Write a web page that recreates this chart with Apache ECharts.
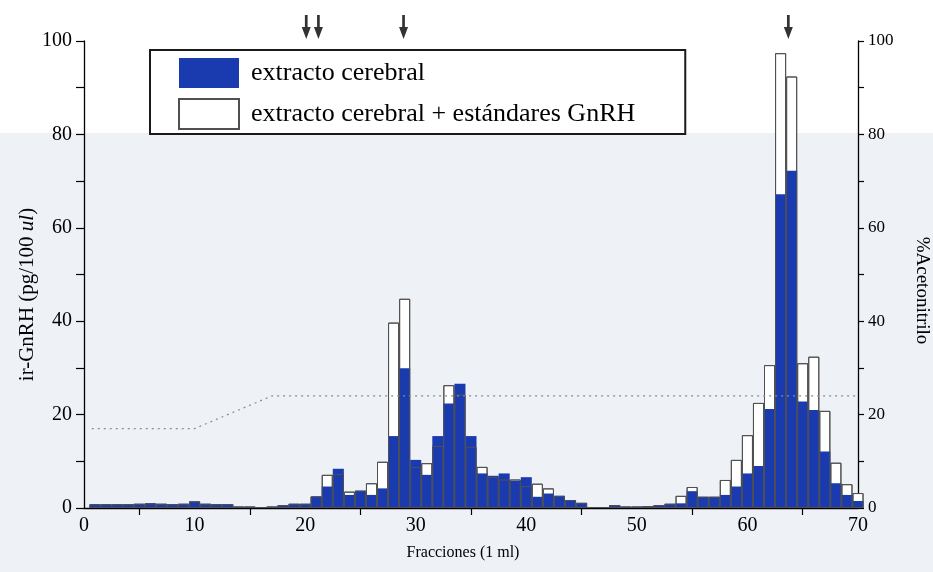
<!DOCTYPE html>
<html>
<head>
<meta charset="utf-8">
<script src="https://cdn.jsdelivr.net/npm/echarts@6/dist/echarts.min.js"></script>
<style>
  html, body { margin: 0; padding: 0; background: #ffffff; }
  #chart { width: 933px; height: 572px; }
</style>
</head>
<body>
<div id="chart"></div>
<script>
// Fraction numbers collected from the column (1 ml each)
const fractions = [
   1,  2,  3,  4,  5,  6,  7,  8,  9, 10,
  11, 12, 13, 14, 15, 16, 17, 18, 19, 20,
  21, 22, 23, 24, 25, 26, 27, 28, 29, 30,
  31, 32, 33, 34, 35, 36, 37, 38, 39, 40,
  41, 42, 43, 44, 45, 46, 47, 48, 49, 50,
  51, 52, 53, 54, 55, 56, 57, 58, 59, 60,
  61, 62, 63, 64, 65, 66, 67, 68, 69, 70
];

// ir-GnRH (pg/100 ul), brain extract alone
const brainExtract = [
  0.8, 0.8, 0.8, 0.8, 0.9, 1.0, 0.9, 0.8, 0.9, 1.4,
  0.9, 0.8, 0.8, 0.3, 0.3, 0.2, 0.3, 0.6, 0.9, 0.9,
  2.4, 4.6, 8.4, 2.8, 3.7, 2.8, 4.2, 15.4, 29.9, 10.3,
  7.1, 15.4, 22.4, 26.6, 15.4, 7.4, 6.9, 7.4, 5.8, 6.6,
  2.4, 3.1, 2.6, 1.7, 1.1, 0.2, 0.2, 0.6, 0.3, 0.3,
  0.4, 0.6, 0.9, 1.0, 3.6, 2.4, 2.4, 2.8, 4.6, 7.4,
  9.0, 21.2, 67.2, 72.2, 22.8, 21.0, 12.1, 5.3, 2.8, 1.5
];

// ir-GnRH (pg/100 ul), brain extract spiked with GnRH standards
const brainPlusStandards = [
  0.8, 0.8, 0.8, 0.8, 0.9, 1.0, 0.9, 0.8, 0.9, 1.4,
  0.9, 0.8, 0.8, 0.3, 0.3, 0.2, 0.3, 0.6, 0.9, 0.9,
  2.5, 7.1, 7.3, 3.5, 3.7, 5.3, 9.9, 39.7, 44.8, 8.8,
  9.6, 13.3, 26.3, 24.3, 13.1, 8.8, 6.7, 6.1, 6.1, 4.7,
  5.2, 4.2, 2.6, 1.7, 1.1, 0.2, 0.2, 0.6, 0.3, 0.3,
  0.4, 0.6, 0.9, 2.6, 4.5, 2.4, 2.4, 6.0, 10.3, 15.6,
  22.5, 30.6, 97.4, 92.4, 31.0, 32.4, 20.8, 9.7, 5.1, 3.2
];

// Acetonitrile gradient (% on the right axis)
const gradientFractions = [0.7, 10, 17, 70];
const acetonitrilePct = [17, 17, 24, 24];

// Elution positions of the GnRH standards (arrows above the plot)
const arrowFractions = [20.1, 21.2, 28.9, 63.7];
const arrowLevel = 103;

const yTicksLeft = { min: 0, max: 100, step: 20 };
const xTicks = { min: 0, max: 70, step: 10 };

const serif = 'Liberation Serif';
const BLUE = '#1a3ab0';
const OUTLINE = '#505050';

const pair = (xs, ys) => xs.map((x, i) => [x, ys[i]]);

const chart = echarts.init(document.getElementById('chart'), null, { renderer: 'canvas' });

chart.setOption({
  animation: false,
  backgroundColor: '#ffffff',
  textStyle: { fontFamily: serif, color: '#000' },
  graphic: [
    {
      type: 'rect',
      z: -10,
      silent: true,
      shape: { x: 0, y: 133, width: 933, height: 439 },
      style: { fill: '#eef1f6' }
    }
  ],
  grid: {
    left: 84, right: 75, top: 41, bottom: 64,
    containLabel: false,
    outerBoundsMode: 'none'
  },
  legend: {
    data: ['extracto cerebral', 'extracto cerebral + estándares GnRH'],
    orient: 'vertical',
    left: 150,
    top: 50,
    icon: 'rect',
    itemWidth: 60,
    itemHeight: 30,
    itemGap: 10,
    padding: [8, 50, 4, 28],
    borderColor: '#1a1a1a',
    borderWidth: 2,
    backgroundColor: '#ffffff',
    selectedMode: false,
    textStyle: { fontFamily: serif, fontSize: 26, color: '#000', padding: [0, 0, 0, 7] }
  },
  xAxis: {
    type: 'value',
    min: xTicks.min,
    max: xTicks.max,
    interval: xTicks.step,
    name: 'Fracciones (1 ml)',
    nameLocation: 'middle',
    nameGap: 37,
    nameMoveOverlap: false,
    nameTextStyle: { fontFamily: serif, fontSize: 16, color: '#000', padding: [0, 16, 0, 0] },
    axisLine: { show: true, onZero: false, lineStyle: { color: '#000', width: 1.3 } },
    axisTick: { show: false },
    minorTick: { show: true, splitNumber: 2, length: 7, lineStyle: { color: '#000', width: 1.2 } },
    splitLine: { show: false },
    minorSplitLine: { show: false },
    axisLabel: { fontFamily: serif, fontSize: 20, color: '#000', margin: 8 }
  },
  yAxis: [
    {
      type: 'value',
      position: 'left',
      min: yTicksLeft.min,
      max: yTicksLeft.max,
      interval: yTicksLeft.step,
      name: 'ir-GnRH (pg/100 {i|ul})',
      nameLocation: 'middle',
      nameGap: 46,
      nameMoveOverlap: false,
      nameTextStyle: {
        fontFamily: serif, fontSize: 21, color: '#000', padding: [0, 40, 0, 0],
        rich: { i: { fontFamily: serif, fontSize: 21, fontStyle: 'italic', color: '#000' } }
      },
      axisLine: { show: true, lineStyle: { color: '#000', width: 1.3 } },
      axisTick: { show: true, length: 8, lineStyle: { color: '#000', width: 1.2 } },
      minorTick: { show: true, splitNumber: 2, length: 8, lineStyle: { color: '#000', width: 1.2 } },
      splitLine: { show: false },
      minorSplitLine: { show: false },
      axisLabel: { fontFamily: serif, fontSize: 20, color: '#000', margin: 12 }
    },
    {
      type: 'value',
      position: 'right',
      min: 0,
      max: 100,
      interval: 20,
      name: '%Acetonitrilo',
      nameLocation: 'middle',
      nameRotate: -90,
      nameGap: 54,
      nameMoveOverlap: false,
      nameTextStyle: { fontFamily: serif, fontSize: 19, color: '#000', padding: [0, 0, 0, 32] },
      axisLine: { show: true, lineStyle: { color: '#000', width: 1.3 } },
      axisTick: { show: true, length: 6, lineStyle: { color: '#000', width: 1.2 } },
      minorTick: { show: true, splitNumber: 2, length: 6, lineStyle: { color: '#000', width: 1.2 } },
      splitLine: { show: false },
      minorSplitLine: { show: false },
      axisLabel: { fontFamily: serif, fontSize: 17, color: '#000', margin: 10 }
    }
  ],
  series: [
    {
      name: 'extracto cerebral + estándares GnRH',
      type: 'bar',
      data: pair(fractions, brainPlusStandards),
      barWidth: '100%',
      barGap: '-100%',
      clip: false,
      z: 2,
      itemStyle: { color: '#ffffff', borderColor: OUTLINE, borderWidth: 1 }
    },
    {
      name: 'extracto cerebral',
      type: 'bar',
      data: pair(fractions, brainExtract),
      barWidth: '100%',
      barGap: '-100%',
      clip: false,
      z: 3,
      itemStyle: { color: BLUE, borderWidth: 0 }
    },
    {
      name: 'contorno',
      type: 'bar',
      data: pair(fractions, brainPlusStandards),
      barWidth: '100%',
      barGap: '-100%',
      clip: false,
      silent: true,
      z: 4,
      itemStyle: { color: 'rgba(0,0,0,0)', borderColor: OUTLINE, borderWidth: 1 }
    },
    {
      name: 'acetonitrilo',
      type: 'line',
      yAxisIndex: 1,
      data: pair(gradientFractions, acetonitrilePct),
      symbol: 'none',
      z: 5,
      lineStyle: { color: '#8c8c8c', width: 1.2, type: [2, 4] }
    },
    {
      name: 'estándares',
      type: 'scatter',
      data: arrowFractions.map(f => [f, arrowLevel]),
      clip: false,
      symbol: 'path://M3.5,0 L6.5,0 L6.5,12 L10,12 L5,24 L0,12 L3.5,12 Z',
      symbolSize: [9, 24],
      itemStyle: { color: '#000' },
      z: 6
    }
  ]
});
</script>
</body>
</html>
